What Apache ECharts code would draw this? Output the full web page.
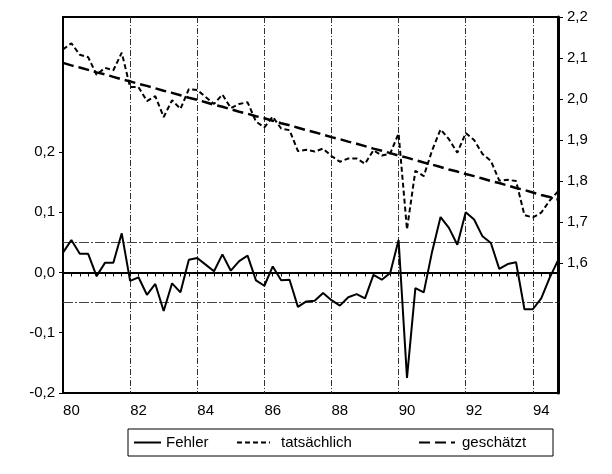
<!DOCTYPE html>
<html>
<head>
<meta charset="utf-8">
<script src="https://cdn.jsdelivr.net/npm/echarts@6/dist/echarts.min.js"></script>
<style>
  html, body { margin: 0; padding: 0; background: #fff; }
  #chart { width: 612px; height: 474px; }
</style>
</head>
<body>
<div id="chart"></div>
<script>
// Quartale 1980Q1 .. 1994Q4
const quartale = [
  '80Q1','80Q2','80Q3','80Q4','81Q1','81Q2','81Q3','81Q4',
  '82Q1','82Q2','82Q3','82Q4','83Q1','83Q2','83Q3','83Q4',
  '84Q1','84Q2','84Q3','84Q4','85Q1','85Q2','85Q3','85Q4',
  '86Q1','86Q2','86Q3','86Q4','87Q1','87Q2','87Q3','87Q4',
  '88Q1','88Q2','88Q3','88Q4','89Q1','89Q2','89Q3','89Q4',
  '90Q1','90Q2','90Q3','90Q4','91Q1','91Q2','91Q3','91Q4',
  '92Q1','92Q2','92Q3','92Q4','93Q1','93Q2','93Q3','93Q4',
  '94Q1','94Q2','94Q3','94Q4'
]
const xLabels = ['80', '82', '84', '86', '88', '90', '92', '94']
const leftTicks = [-0.2, -0.1, 0, 0.1, 0.2]
const rightTicks = [1.6, 1.7, 1.8, 1.9, 2.0, 2.1, 2.2]

// Fehler (linke Achse)
const fehler = [
  0.033, 0.054, 0.031, 0.031, -0.006, 0.016, 0.016, 0.065, -0.014, -0.008,
  -0.037, -0.019, -0.064, -0.018, -0.033, 0.021, 0.024, 0.013, 0.002, 0.030,
  0.003, 0.019, 0.028, -0.013, -0.022, 0.010, -0.013, -0.012, -0.057, -0.048,
  -0.047, -0.034, -0.046, -0.055, -0.041, -0.036, -0.043, -0.004, -0.012, -0.001,
  0.054, -0.175, -0.026, -0.033, 0.035, 0.092, 0.074, 0.046, 0.100, 0.088,
  0.060, 0.049, 0.006, 0.014, 0.017, -0.061, -0.061, -0.043, -0.009, 0.020
]
// tatsächlich (rechte Achse)
const tatsaechlich = [
  2.121, 2.136, 2.108, 2.102, 2.059, 2.076, 2.070, 2.113, 2.029, 2.029,
  1.995, 2.007, 1.956, 1.997, 1.976, 2.024, 2.022, 2.005, 1.988, 2.011,
  1.978, 1.988, 1.992, 1.945, 1.931, 1.957, 1.928, 1.924, 1.873, 1.876,
  1.872, 1.879, 1.861, 1.847, 1.855, 1.855, 1.842, 1.875, 1.862, 1.867,
  1.916, 1.682, 1.825, 1.812, 1.875, 1.926, 1.902, 1.869, 1.917, 1.900,
  1.866, 1.849, 1.801, 1.803, 1.800, 1.717, 1.711, 1.723, 1.752, 1.775
]
// geschätzt (rechte Achse)
const geschaetzt = [
  2.088, 2.082, 2.077, 2.071, 2.065, 2.060, 2.054, 2.048, 2.043, 2.037,
  2.032, 2.026, 2.020, 2.015, 2.009, 2.003, 1.998, 1.992, 1.986, 1.981,
  1.975, 1.969, 1.964, 1.958, 1.953, 1.947, 1.941, 1.936, 1.930, 1.924,
  1.919, 1.913, 1.907, 1.902, 1.896, 1.891, 1.885, 1.879, 1.874, 1.868,
  1.862, 1.857, 1.851, 1.845, 1.840, 1.834, 1.828, 1.823, 1.817, 1.812,
  1.806, 1.800, 1.795, 1.789, 1.783, 1.778, 1.772, 1.766, 1.761, 1.755
]
const stdFehler = 0.047

const schrift = 'Liberation Sans, Arial, Helvetica, sans-serif'
const komma = function(v) {
  return v.toFixed(1).replace('.', ',')
}

// eine Legende je Eintrag, damit die Abstaende stimmen
function legende(name, links, breite, abstand) {
  return {
    left: links,
    top: 435,
    padding: 0,
    itemWidth: breite,
    itemHeight: 12,
    itemGap: 0,
    itemStyle: { opacity: 0 },
    textStyle: {
      color: '#000',
      fontSize: 15,
      fontFamily: schrift,
      padding: [0, 0, 0, abstand]
    },
    data: [name]
  }
}

var myChart = echarts.init(document.getElementById('chart'))
var option = {
  animation: false,
  backgroundColor: '#fff',
  textStyle: { fontFamily: schrift },
  grid: {
    left: 63,
    top: 17,
    width: 495,
    height: 376,
    show: true,
    borderColor: '#000',
    borderWidth: 2
  },
  legend: [
    legende('Fehler', 133, 27, 0),
    legende('tatsächlich', 236, 33, 6),
    legende('geschätzt', 418, 36, 2)
  ],
  graphic: [{
    type: 'rect',
    shape: { x: 128, y: 429, width: 425, height: 27 },
    style: { fill: 'none', stroke: '#000', lineWidth: 1 }
  }],
  xAxis: {
    type: 'category',
    data: quartale,
    boundaryGap: false,
    axisLine: { lineStyle: { color: '#000', width: 2 } },
    axisTick: {
      interval: 0,
      length: 4,
      lineStyle: { color: '#000', width: 1 }
    },
    axisLabel: {
      interval: function(i) { return i % 8 === 1 },
      formatter: function(v, i) { return xLabels[(i - 1) / 8] },
      color: '#000',
      fontSize: 15,
      margin: 10
    },
    splitLine: {
      show: true,
      interval: function(i) { return i > 0 && i % 8 === 0 },
      lineStyle: { color: '#333', width: 1, type: [6, 2, 1, 2] }
    }
  },
  yAxis: [{
    type: 'value',
    position: 'left',
    min: -0.2,
    max: 0.424,
    axisLine: { show: true, lineStyle: { color: '#000', width: 2 } },
    axisTick: { show: true, length: 4, customValues: leftTicks, lineStyle: { color: '#000' } },
    axisLabel: {
      customValues: leftTicks,
      formatter: komma,
      color: '#000',
      fontSize: 15,
      margin: 8
    },
    splitLine: { show: false }
  }, {
    type: 'value',
    position: 'right',
    min: 1.283,
    max: 2.2,
    axisLine: { show: true, lineStyle: { color: '#000', width: 3 } },
    axisTick: { show: true, length: 5, customValues: rightTicks, lineStyle: { color: '#000' } },
    axisLabel: {
      customValues: rightTicks,
      formatter: komma,
      color: '#000',
      fontSize: 15,
      margin: 9
    },
    splitLine: { show: false }
  }],
  series: [{
    name: 'Fehler',
    type: 'line',
    yAxisIndex: 0,
    data: fehler,
    symbol: 'none',
    lineStyle: { color: '#000', width: 2 },
    itemStyle: { color: '#000' },
    z: 5,
    markLine: {
      silent: true,
      symbol: 'none',
      label: { show: false },
      data: [
        { yAxis: 0, lineStyle: { color: '#000', width: 1.5, type: 'solid' } },
        { yAxis: stdFehler, lineStyle: { color: '#444', width: 1, type: [10, 2, 2, 2] } },
        { yAxis: -stdFehler, lineStyle: { color: '#444', width: 1, type: [10, 2, 2, 2] } }
      ]
    }
  }, {
    name: 'tatsächlich',
    type: 'line',
    yAxisIndex: 1,
    data: tatsaechlich,
    symbol: 'none',
    lineStyle: { color: '#000', width: 2, type: [5, 3] },
    itemStyle: { color: '#000' },
    z: 4
  }, {
    name: 'geschätzt',
    type: 'line',
    yAxisIndex: 1,
    data: geschaetzt,
    symbol: 'none',
    lineStyle: { color: '#000', width: 2.5, type: [11, 5] },
    itemStyle: { color: '#000' },
    z: 4
  }]
}
myChart.setOption(option)
</script>
</body>
</html>
